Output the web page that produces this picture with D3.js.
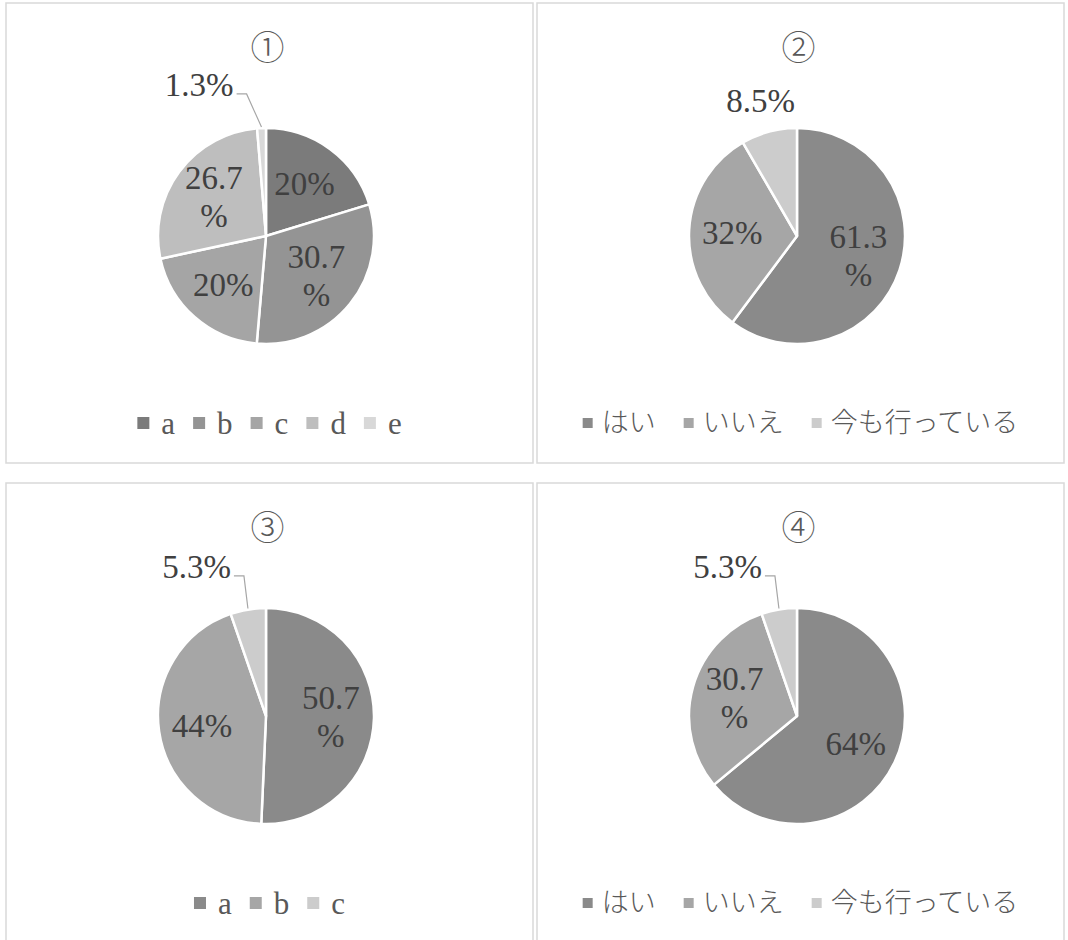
<!DOCTYPE html>
<html>
<head>
<meta charset="utf-8">
<script src="https://cdn.jsdelivr.net/npm/d3@7"></script>
<style>
body{margin:0;background:#fff;}
.lbl{font-family:"Liberation Serif","DejaVu Serif",serif;font-size:33px;fill:#404040;}
.leg-latin{font-family:"Liberation Serif","DejaVu Serif",serif;font-size:31px;fill:#595959;}
.leg-jp{font-family:"Noto Sans CJK JP",sans-serif;font-weight:300;font-size:27px;fill:#595959;}
.ttl{font-family:"Noto Sans CJK JP",sans-serif;font-weight:300;font-size:34px;fill:#595959;}
</style>
</head>
<body>
<div id="chart"></div>
<script>
// chart values
var titles = ["①", "②", "③", "④"];
var cats1 = ["a", "b", "c", "d", "e"];
var vals1 = [20, 30.7, 20, 26.7, 1.3];
var cats2 = ["はい", "いいえ", "今も行っている"];
var vals2 = [61.3, 32, 8.5];
var cats3 = ["a", "b", "c"];
var vals3 = [50.7, 44, 5.3];
var cats4 = ["はい", "いいえ", "今も行っている"];
var vals4 = [64, 30.7, 5.3];

var grey5 = ["#7b7b7b", "#949494", "#a5a5a5", "#bebebe", "#d8d8d8"];
var grey3 = ["#8a8a8a", "#a6a6a6", "#cccccc"];

var W = 1068, H = 940;
var panelW = 527, panelH = 460;

var svg = d3.select("#chart").append("svg")
	.attr("width", W).attr("height", H);

var charts = [
	{x: 6, y: 3, title: titles[0], cats: cats1, vals: vals1, colors: grey5, latin: true},
	{x: 537, y: 3, title: titles[1], cats: cats2, vals: vals2, colors: grey3, latin: false},
	{x: 6, y: 483, title: titles[2], cats: cats3, vals: vals3, colors: grey3, latin: true},
	{x: 537, y: 483, title: titles[3], cats: cats4, vals: vals4, colors: grey3, latin: false}
];

charts.forEach(function(c) { drawPie(c); });

function drawPie(c) {
	var g = svg.append("g").attr("transform", "translate(" + c.x + "," + c.y + ")");
	g.append("rect")
		.attr("width", panelW).attr("height", panelH)
		.attr("fill", "#fff").attr("stroke", "#d9d9d9").attr("stroke-width", 1.5);

	g.append("text").attr("class", "ttl")
		.attr("x", panelW / 2 - 2).attr("y", 45).attr("dy", "0.36em")
		.attr("text-anchor", "middle")
		.text(c.title);

	var r = 108, cx = 260, cy = 233;
	var color = d3.scaleOrdinal().domain(c.cats).range(c.colors);
	var pie = d3.pie().sort(null).value(function(d) { return d.v; });
	var rows = c.cats.map(function(k, i) { return {k: k, v: c.vals[i]}; });
	var arcs = pie(rows);
	var arc = d3.arc().innerRadius(0).outerRadius(r);
	var inArc = d3.arc().innerRadius(r * 0.6).outerRadius(r * 0.6);
	var outArc = d3.arc().innerRadius(r * 1.3).outerRadius(r * 1.3);
	var farArc = d3.arc().innerRadius(r * 1.4).outerRadius(r * 1.4);
	var edgeArc = d3.arc().innerRadius(r + 1).outerRadius(r + 1);

	var pg = g.append("g").attr("transform", "translate(" + cx + "," + cy + ")");
	pg.selectAll("path.slice").data(arcs).enter().append("path")
		.attr("class", "slice")
		.attr("d", arc)
		.attr("fill", function(d) { return color(d.data.k); })
		.attr("stroke", "#fff").attr("stroke-width", 2.5).attr("stroke-linejoin", "round");

	arcs.forEach(function(d) {
		var lbl = d.data.v + "%";
		var t = pg.append("text").attr("class", "lbl");
		if (d.data.v < 7) {
			// small slice: label moved out to the upper left, with a leader line
			var p = farArc.centroid(d);
			var xe = Math.min(p[0] - 10, -r * 0.3);
			t.attr("x", xe).attr("y", p[1]).attr("dy", "0.35em")
				.attr("text-anchor", "end").text(lbl);
			var e = edgeArc.centroid(d);
			pg.append("polyline")
				.attr("points", [[xe + 3, p[1] + 9], [xe + 13, p[1] + 9], e].join(" "))
				.attr("fill", "none").attr("stroke", "#a6a6a6").attr("stroke-width", 1.2);
		} else if (d.data.v < 10) {
			var q = outArc.centroid(d);
			t.attr("x", q[0]).attr("y", q[1]).attr("dy", "0.35em")
				.attr("text-anchor", "middle").text(lbl);
		} else {
			var m = inArc.centroid(d);
			t.attr("x", m[0]).attr("y", m[1]).attr("text-anchor", "middle");
			if (String(d.data.v).length > 2) {
				t.append("tspan").attr("x", m[0]).attr("dy", "-0.25em").text(d.data.v);
				t.append("tspan").attr("x", m[0]).attr("dy", "1.15em").text("%");
			} else {
				t.attr("dy", "0.35em").text(lbl);
			}
		}
	});

	// legend
	var lg = g.append("g");
	var sq = c.latin ? 12 : 10;
	var gap1 = c.latin ? 12 : 9;
	var gap2 = c.latin ? 18 : 28;
	var ly = 420;
	var xpos = 0;
	c.cats.forEach(function(k) {
		lg.append("rect")
			.attr("x", xpos).attr("y", ly - sq / 2)
			.attr("width", sq).attr("height", sq)
			.attr("fill", color(k));
		var tx = lg.append("text").attr("class", c.latin ? "leg-latin" : "leg-jp")
			.attr("x", xpos + sq + gap1).attr("y", ly).attr("dy", "0.35em")
			.text(k);
		xpos += sq + gap1 + tx.node().getComputedTextLength() + gap2;
	});
	xpos -= gap2;
	lg.attr("transform", "translate(" + (panelW / 2 - xpos / 2) + ",0)");
}
</script>
</body>
</html>
